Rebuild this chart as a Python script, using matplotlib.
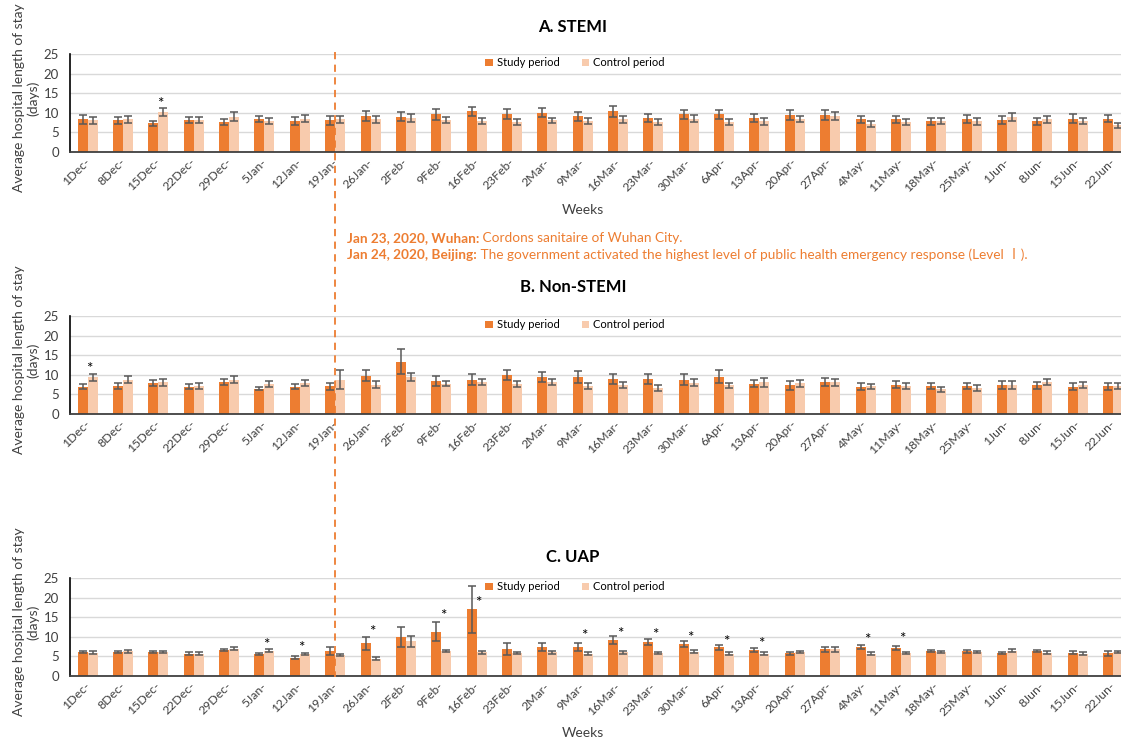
import numpy as np
import matplotlib.pyplot as plt
from matplotlib import transforms
from matplotlib.lines import Line2D

plt.rcParams['font.family'] = ['Lato', 'Noto Sans CJK SC', 'DejaVu Sans']

weeks = ["1Dec-", "8Dec-", "15Dec-", "22Dec-", "29Dec-", "5Jan-", "12Jan-", "19Jan-",
         "26Jan-", "2Feb-", "9Feb-", "16Feb-", "23Feb-", "2Mar-", "9Mar-", "16Mar-",
         "23Mar-", "30Mar-", "6Apr-", "13Apr-", "20Apr-", "27Apr-", "4May-", "11May-",
         "18May-", "25May-", "1Jun-", "8Jun-", "15Jun-", "22Jun-"]

# A. STEMI
stemi_study = [8.3, 8.1, 7.3, 8.1, 7.7, 8.4, 7.9, 8.1, 9.1, 9.0, 9.6, 10.4, 9.6, 10.0,
               9.1, 10.4, 8.7, 9.6, 9.6, 8.7, 9.4, 9.4, 8.3, 8.3, 7.9, 8.5, 8.1, 7.9, 8.5, 8.5]
stemi_study_err = [1.1, 0.9, 0.7, 0.8, 0.7, 0.8, 1.0, 1.1, 1.3, 1.2, 1.4, 1.2, 1.3, 1.1,
                   1.1, 1.4, 1.0, 1.2, 1.2, 1.0, 1.2, 1.2, 1.0, 0.9, 0.9, 1.0, 1.0, 0.9, 1.2, 0.9]
stemi_control = [8.1, 8.3, 10.3, 8.1, 9.0, 7.9, 8.5, 8.3, 8.4, 8.7, 8.1, 7.9, 7.7, 8.1,
                 8.0, 8.3, 7.7, 8.5, 7.7, 7.9, 8.4, 9.2, 7.1, 7.6, 7.9, 7.9, 8.9, 8.3, 7.9, 6.8]
stemi_control_err = [0.9, 1.0, 1.0, 0.8, 1.1, 0.8, 0.9, 0.8, 0.9, 1.0, 0.8, 0.7, 0.7, 0.7,
                     0.8, 0.8, 0.8, 0.9, 0.8, 0.9, 0.8, 1.1, 0.7, 0.8, 0.8, 0.9, 1.0, 0.8, 0.8, 0.6]
stemi_star_idx = [2]
stemi_star_y = [12.3]

# B. Non-STEMI
nstemi_study = [7.0, 7.1, 8.0, 7.0, 8.2, 6.5, 7.0, 7.1, 9.7, 13.3, 8.5, 8.8, 9.9, 9.4,
                9.4, 8.9, 8.9, 8.8, 9.5, 7.7, 7.3, 8.1, 7.0, 7.5, 7.1, 7.1, 7.4, 7.3, 6.9, 7.1]
nstemi_study_err = [0.6, 0.7, 0.8, 0.6, 0.7, 0.5, 0.6, 0.9, 1.4, 3.2, 1.3, 1.3, 1.3, 1.2,
                    1.5, 1.2, 1.2, 1.4, 1.6, 0.9, 1.1, 1.0, 0.8, 0.9, 0.8, 0.7, 0.9, 0.8, 0.9, 0.9]
nstemi_control = [9.4, 8.7, 8.1, 7.2, 8.8, 7.6, 8.0, 8.8, 7.5, 9.4, 7.7, 8.1, 7.7, 8.1,
                  7.2, 7.4, 6.7, 8.0, 7.3, 8.1, 7.9, 8.1, 7.1, 7.1, 6.3, 6.6, 7.4, 8.2, 7.4, 7.1]
nstemi_control_err = [0.9, 0.9, 0.9, 0.7, 0.9, 0.8, 0.8, 2.3, 0.9, 1.1, 0.6, 0.8, 0.8, 0.8,
                      0.8, 0.8, 0.8, 0.9, 0.7, 1.1, 0.9, 0.9, 0.6, 0.8, 0.6, 0.7, 0.9, 0.8, 0.8, 0.7]
nstemi_star_idx = [0]
nstemi_star_y = [11.5]

# C. UAP
uap_study = [6.1, 6.1, 6.1, 5.7, 6.6, 5.6, 4.7, 6.3, 8.3, 10.0, 11.3, 17.0, 6.8, 7.4,
             7.4, 9.2, 8.6, 8.1, 7.3, 6.7, 5.8, 6.8, 7.3, 7.2, 6.3, 6.3, 5.9, 6.4, 5.9, 5.8]
uap_study_err = [0.3, 0.3, 0.3, 0.3, 0.3, 0.3, 0.3, 1.0, 1.6, 2.6, 2.4, 6.0, 1.5, 1.1,
                 1.0, 1.1, 0.8, 0.8, 0.7, 0.5, 0.4, 0.6, 0.5, 0.5, 0.3, 0.4, 0.3, 0.3, 0.4, 0.6]
uap_control = [5.9, 6.3, 6.1, 5.7, 7.0, 6.4, 5.6, 5.3, 4.4, 8.9, 6.3, 6.0, 5.8, 6.0,
               5.7, 6.0, 5.8, 6.2, 5.7, 5.7, 6.2, 6.8, 5.7, 5.8, 6.1, 6.2, 6.5, 5.9, 5.7, 6.1]
uap_control_err = [0.4, 0.4, 0.3, 0.3, 0.4, 0.4, 0.3, 0.3, 0.4, 1.4, 0.3, 0.3, 0.3, 0.3,
                   0.3, 0.3, 0.3, 0.4, 0.3, 0.3, 0.3, 0.6, 0.3, 0.3, 0.3, 0.3, 0.4, 0.4, 0.3, 0.3]
uap_star_idx = [5, 6, 8, 10, 11, 14, 15, 16, 17, 18, 19, 22, 23]
uap_star_y = [8.0, 7.2, 11.3, 15.3, 18.6, 10.2, 10.8, 10.5, 9.6, 8.8, 8.1, 9.1, 9.4]

ORANGE = '#ED7D31'
PEACH = '#F8CBAD'
ERRC = '#595959'
W, H = 1121, 742


def panel(fig, top_px, study, study_err, control, control_err, star_idx, star_y):
    """ one bar chart, top_px is the pixel row of the 25 gridline """
    ax = fig.add_axes([70 / W, 1 - (top_px + 98) / H, 1060.7 / W, 98 / H])
    x = np.arange(len(weeks))
    bw = 0.283
    ekw = dict(ecolor=ERRC, elinewidth=1.1, capsize=2.6, capthick=1.1)
    ax.bar(x - bw / 2, study, bw, yerr=study_err, color=ORANGE,
           label='Study period', error_kw=ekw)
    ax.bar(x + bw / 2, control, bw, yerr=control_err, color=PEACH,
           label='Control period', error_kw=ekw)
    ax.set_xlim(-0.5, len(weeks) - 0.5)
    ax.set_ylim(0, 25)
    ax.set_yticks(range(0, 26, 5))
    ax.yaxis.grid(True, color='#D9D9D9', lw=1.0)
    ax.set_axisbelow(True)
    for s in ['top', 'right']:
        ax.spines[s].set_visible(False)
    ax.spines['left'].set_color('black')
    ax.spines['left'].set_linewidth(1.2)
    ax.spines['bottom'].set_color('#404040')
    ax.spines['bottom'].set_linewidth(1.3)
    ax.set_xticks(x)
    ax.set_xticklabels(weeks, rotation=45, ha='right', va='center',
                       rotation_mode='anchor', fontsize=8.8, color='#404040')
    ax.tick_params(axis='x', length=0, pad=6)
    ax.tick_params(axis='y', length=0, pad=8, labelsize=9.5, labelcolor='#404040')
    for i, sy in zip(star_idx, star_y):
        ax.text(i + 0.05, sy, '*', ha='center', va='center', fontsize=11)
    ax.legend(loc='center', bbox_to_anchor=(0.476, 0.91), ncol=2, frameon=False,
              fontsize=8, handlelength=0.7, handleheight=0.7, handletextpad=0.35,
              columnspacing=2.0, borderpad=0)
    fig.text(26 / W, 1 - (top_px + 44) / H, 'Average hospital length of stay\n(days)',
             rotation=90, ha='center', va='center', multialignment='center',
             fontsize=10, color='#404040')
    return ax


fig = plt.figure(figsize=(W / 100, H / 100), dpi=100)

ax_a = panel(fig, 54, stemi_study, stemi_study_err, stemi_control,
             stemi_control_err, stemi_star_idx, stemi_star_y)
ax_b = panel(fig, 316, nstemi_study, nstemi_study_err, nstemi_control,
             nstemi_control_err, nstemi_star_idx, nstemi_star_y)
ax_c = panel(fig, 578, uap_study, uap_study_err, uap_control,
             uap_control_err, uap_star_idx, uap_star_y)

for title, ypx in [('A. STEMI', 27), ('B. Non-STEMI', 287), ('C. UAP', 557)]:
    fig.text(573 / W, 1 - ypx / H, title, ha='center', va='center',
             fontsize=12, fontweight='bold')

for ypx in [210, 733]:
    fig.text(583 / W, 1 - ypx / H, 'Weeks', ha='center', va='center',
             fontsize=10, color='#404040')

# lockdown line at the 19Jan week
trans = transforms.blended_transform_factory(ax_a.transData, fig.transFigure)
fig.add_artist(Line2D([7, 7], [1 - 52 / H, 1 - 677 / H], transform=trans,
                      color=ORANGE, lw=1.3, linestyle=(0, (4, 3))))

notes = [("Jan 23, 2020, Wuhan:", " Cordons sanitaire of Wuhan City.", 238),
         ("Jan 24, 2020, Beijing:",
          " The government activated the highest level of public health emergency response (Level Ⅰ).",
          255)]
for bold, rest, ypx in notes:
    t1 = fig.text(347 / W, 1 - ypx / H, bold, ha='left', va='center',
                  fontsize=9.8, fontweight='bold', color=ORANGE)
    fig.add_artist(plt.Annotation(rest, xy=(1, 0), xycoords=t1, ha='left',
                                  va='bottom', fontsize=9.8, color=ORANGE))

fig.savefig('out.png', dpi=100)
